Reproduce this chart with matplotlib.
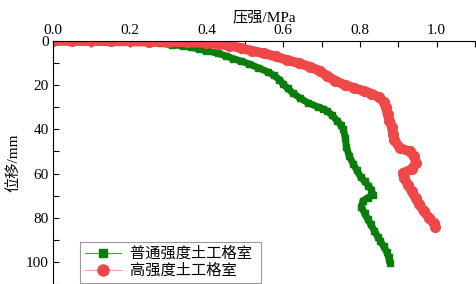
import matplotlib
matplotlib.use("Agg")
import matplotlib.pyplot as plt
from matplotlib.ticker import MultipleLocator
from matplotlib.lines import Line2D

# 普通强度土工格室 (green squares)
green_x = [0.0, 0.05, 0.1, 0.15, 0.2, 0.25, 0.28, 0.31, 0.34, 0.36, 0.38, 0.40, 0.43, 0.45,
           0.47, 0.49, 0.51, 0.535, 0.56, 0.575, 0.59, 0.60, 0.612, 0.625, 0.645, 0.665,
           0.69, 0.705, 0.715, 0.727, 0.74, 0.75, 0.757, 0.762, 0.765, 0.772, 0.782,
           0.792, 0.802, 0.812, 0.822, 0.83, 0.834, 0.82, 0.808, 0.804, 0.812, 0.82,
           0.828, 0.838, 0.846, 0.853, 0.862, 0.87, 0.875, 0.878]
green_y = [0, 0.1, 0.2, 0.3, 0.5, 0.8, 1.1, 1.6, 2.3, 2.9, 3.6, 4.4, 5.6, 6.7,
           8.0, 9.1, 10.3, 12.1, 14, 15.5, 17.5, 19.5, 21.5, 23.5, 26, 28,
           29.8, 30.8, 31.8, 33.5, 36, 38, 40, 44, 48, 52, 55.5,
           58.5, 61.5, 63.5, 65.5, 67.4, 69.7, 71, 72.3, 75, 78, 80.5,
           83, 86, 88.5, 90.5, 93, 95.5, 98, 100.7]

# 高强度土工格室 (red circles)
red_x = [0.0, 0.05, 0.1, 0.15, 0.2, 0.25, 0.3, 0.35, 0.4, 0.43, 0.46, 0.49, 0.52, 0.55,
         0.58, 0.61, 0.64, 0.67, 0.695, 0.715, 0.735, 0.76, 0.785, 0.81, 0.83, 0.85,
         0.862, 0.868, 0.872, 0.877, 0.884, 0.886, 0.89, 0.904, 0.93, 0.94, 0.947,
         0.935, 0.912, 0.915, 0.925, 0.935, 0.945, 0.955, 0.967, 0.98, 0.992, 0.997]
red_y = [0, 0, 0.05, 0.1, 0.15, 0.25, 0.4, 0.6, 0.9, 1.4, 2.1, 3.2, 4.5, 5.6,
         7.0, 8.6, 10.0, 11.7, 13.5, 15.8, 18, 19.8, 21.3, 22.6, 23.8, 25.5,
         27.5, 30, 33, 36, 39, 42, 44.7, 48.5, 50, 52, 55,
         58, 59.8, 62, 65, 68, 71, 74, 77, 80, 82.5, 84]

labels = ["普通强度土工格室", "高强度土工格室"]
green = '#0a7d0a'
red = '#f04848'

plt.rcParams['font.family'] = ['Liberation Serif', 'Noto Sans CJK SC']
plt.rcParams['font.size'] = 11

fig = plt.figure(figsize=(4.77, 2.84), dpi=100)
ax = fig.add_axes([53 / 477, 0.0, 422 / 477, 243 / 284])

# the measured points are so dense that they merge into a thick band
ax.plot(green_x, green_y, color=green, linewidth=5, solid_joinstyle='miter',
        solid_capstyle='butt', marker='s', markersize=5)
ax.plot(red_x, red_y, color=red, linewidth=7, solid_joinstyle='round',
        solid_capstyle='round', marker='o', markersize=7)

ax.set_xlim(0, 1.1)
ax.set_ylim(110, 0)
ax.xaxis.tick_top()
ax.xaxis.set_label_position('top')
ax.xaxis.set_major_locator(MultipleLocator(0.2))
ax.xaxis.set_minor_locator(MultipleLocator(0.1))
ax.yaxis.set_major_locator(MultipleLocator(20))
ax.yaxis.set_minor_locator(MultipleLocator(10))
ax.tick_params(which='both', direction='in', length=4, width=0.8, labelsize=11, pad=3)
ax.set_xticklabels([f"{v:.1f}" for v in ax.get_xticks()])
ax.spines['right'].set_visible(False)
ax.spines['bottom'].set_visible(False)

ax.set_xlabel('压强/MPa', fontsize=11, labelpad=2)
ax.set_ylabel('位移/mm', fontsize=11, labelpad=4)

handles = [Line2D([], [], color='#5a9a5a', linewidth=0.8, marker='s', markersize=6,
                  markerfacecolor=green, markeredgecolor=green),
           Line2D([], [], color='#f0a0a0', linewidth=0.8, marker='o', markersize=8,
                  markerfacecolor=red, markeredgecolor=red)]
leg = ax.legend(handles, labels, loc='lower left', bbox_to_anchor=(0.064, 0.005),
                borderaxespad=0, fancybox=False, edgecolor='#808080', fontsize=11,
                handlelength=2.4, handletextpad=0.6, labelspacing=0.2, borderpad=0.3)
leg.get_frame().set_linewidth(0.8)
for t in leg.get_texts():
    t.set_text(t.get_text() + ' ')

fig.savefig('out.png', dpi=100)
